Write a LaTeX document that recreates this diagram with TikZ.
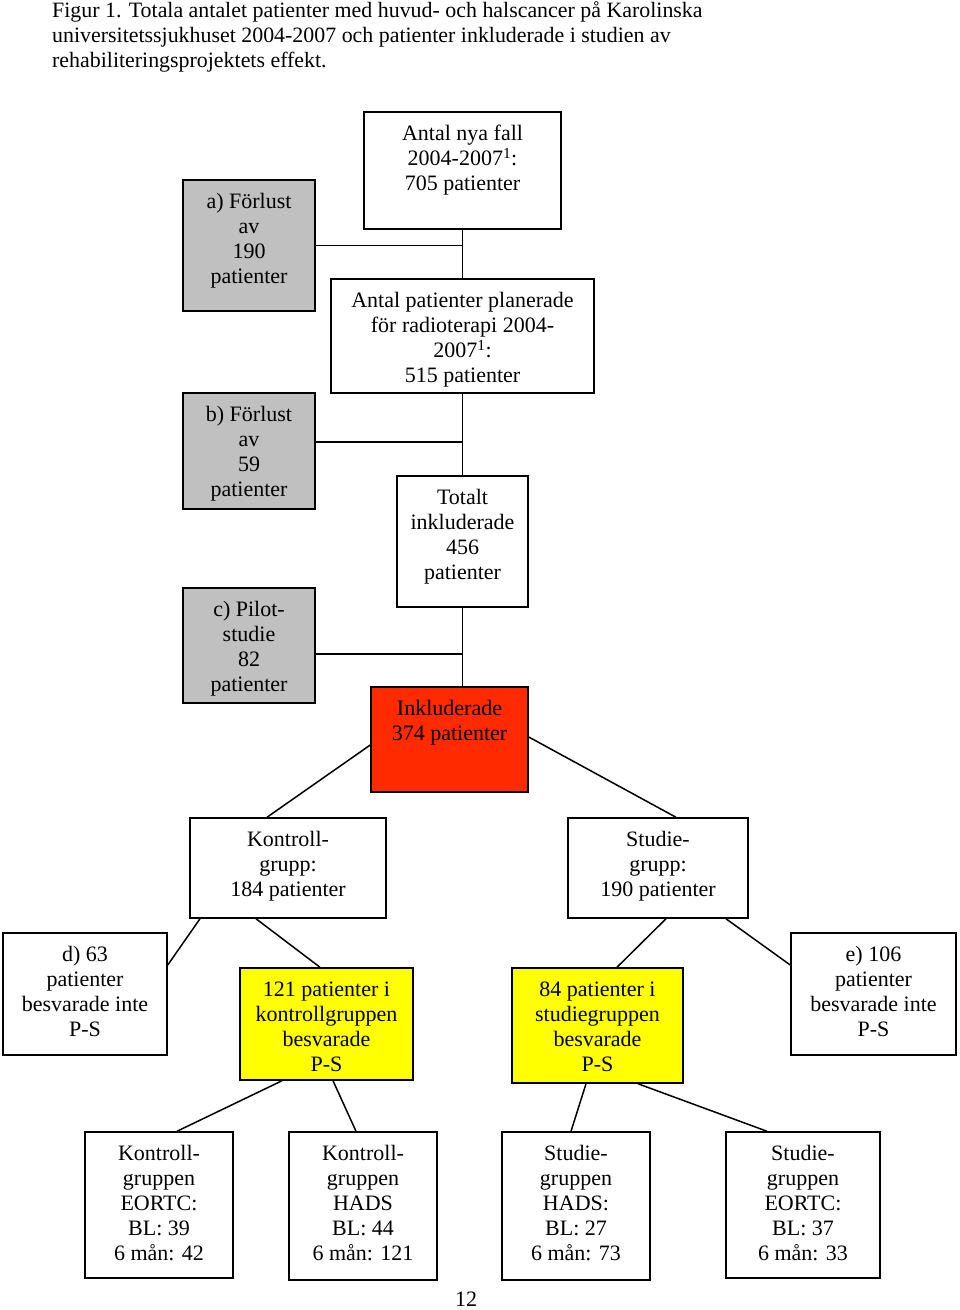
\documentclass[tikz,border=0pt]{standalone}
\usepackage{fontspec}
\setmainfont{Liberation Serif}
\definecolor{boxgray}{RGB}{192,192,192}
\definecolor{boxred}{RGB}{255,42,0}
\definecolor{boxyellow}{RGB}{255,255,0}
\begin{document}
\begin{tikzpicture}[x=1pt,y=-1pt,
  box/.style={draw=black,line width=1.5pt,rectangle,inner sep=0pt},
  graybox/.style={box,fill=boxgray},
  redbox/.style={box,fill=boxred},
  yellowbox/.style={box,fill=boxyellow},
  txt/.style={align=center,inner sep=0pt,font=\fontsize{22}{25}\selectfont},
  conn/.style={line width=1.5pt}]
\useasboundingbox (0,0) rectangle (960,1310);
% title
\node[anchor=north west,align=left,inner sep=0pt,font=\fontsize{21.9}{25}\selectfont] (title) at (52,1)
 {Figur 1. Totala antalet patienter med huvud- och halscancer på Karolinska\\
  universitetssjukhuset 2004-2007 och patienter inkluderade i studien av\\
  rehabiliteringsprojektets effekt.};
% boxes
\node[box,minimum width=197,minimum height=117] (top) at (462.5,170.5) {};
\node[graybox,minimum width=132,minimum height=131] (a) at (249,245.5) {};
\node[box,minimum width=263,minimum height=114] (plan) at (462.5,336) {};
\node[graybox,minimum width=132,minimum height=116] (b) at (249,451) {};
\node[box,minimum width=131,minimum height=131] (tot) at (462.5,541.5) {};
\node[graybox,minimum width=132,minimum height=115] (c) at (249,645.5) {};
\node[redbox,minimum width=157,minimum height=105] (red) at (449.5,739.5) {};
\node[box,minimum width=196,minimum height=100] (kg) at (288,868) {};
\node[box,minimum width=180,minimum height=100] (sg) at (658,868) {};
\node[box,minimum width=164,minimum height=122] (d) at (85,994) {};
\node[yellowbox,minimum width=173,minimum height=112] (k121) at (326.5,1024) {};
\node[yellowbox,minimum width=171,minimum height=115] (s84) at (597.5,1025.5) {};
\node[box,minimum width=165,minimum height=122] (e) at (873.5,994) {};
\node[box,minimum width=148,minimum height=146] (b1) at (159,1205) {};
\node[box,minimum width=148,minimum height=148] (b2) at (363,1206) {};
\node[box,minimum width=148,minimum height=148] (b3) at (576,1206) {};
\node[box,minimum width=154,minimum height=146] (b4) at (803,1205) {};
% texts
\node[txt,anchor=north] (top-t) at ([yshift=-14pt]top.north) {Antal nya fall\\2004-2007\textsuperscript{1}:\\705 patienter};
\node[txt,anchor=north] (a-t) at ([yshift=-14pt]a.north) {a) Förlust\\av\\190\\patienter};
\node[txt,anchor=north] (plan-t) at ([yshift=-14pt]plan.north) {Antal patienter planerade\\för radioterapi 2004-\\2007\textsuperscript{1}:\\515 patienter};
\node[txt,anchor=north] (b-t) at ([yshift=-14pt]b.north) {b) Förlust\\av\\59\\patienter};
\node[txt,anchor=north] (tot-t) at ([yshift=-14pt]tot.north) {Totalt\\inkluderade\\456\\patienter};
\node[txt,anchor=north] (c-t) at ([yshift=-14pt]c.north) {c) Pilot-\\studie\\82\\patienter};
\node[txt,anchor=north] (red-t) at ([yshift=-14pt]red.north) {Inkluderade\\374 patienter};
\node[txt,anchor=north] (kg-t) at ([yshift=-14pt]kg.north) {Kontroll-\\grupp:\\184 patienter};
\node[txt,anchor=north] (sg-t) at ([yshift=-14pt]sg.north) {Studie-\\grupp:\\190 patienter};
\node[txt,anchor=north] (d-t) at ([yshift=-14pt]d.north) {d) 63\\patienter\\besvarade inte\\P-S};
\node[txt,anchor=north] (k121-t) at ([yshift=-14pt]k121.north) {121 patienter i\\kontrollgruppen\\besvarade\\P-S};
\node[txt,anchor=north] (s84-t) at ([yshift=-14pt]s84.north) {84 patienter i\\studiegruppen\\besvarade\\P-S};
\node[txt,anchor=north] (e-t) at ([yshift=-14pt]e.north) {e) 106\\patienter\\besvarade inte\\P-S};
\node[txt,anchor=north] (b1-t) at ([yshift=-14pt]b1.north) {Kontroll-\\gruppen\\EORTC:\\BL: 39\\6 mån: 42};
\node[txt,anchor=north] (b2-t) at ([yshift=-14pt]b2.north) {Kontroll-\\gruppen\\HADS\\BL: 44\\6 mån: 121};
\node[txt,anchor=north] (b3-t) at ([yshift=-14pt]b3.north) {Studie-\\gruppen\\HADS:\\BL: 27\\6 mån: 73};
\node[txt,anchor=north] (b4-t) at ([yshift=-14pt]b4.north) {Studie-\\gruppen\\EORTC:\\BL: 37\\6 mån: 33};
\node[txt] (page) at (466,1299) {12};
% connectors
\draw[conn] (top.south) -- (plan.north);
\draw[conn] (a.east) -- (a.east -| top.south);
\draw[conn] (plan.south) -- (tot.north);
\draw[conn] ([yshift=9pt]b.east) -- ([yshift=9pt]b.east -| plan.south);
\draw[conn] (tot.south) -- (tot.south |- red.north);
\draw[conn] ([yshift=-8.5pt]c.east) -- ([yshift=-8.5pt]c.east -| tot.south);
\draw[conn] ([yshift=-5.5pt]red.west) -- ([xshift=-21pt]kg.north);
\draw[conn] ([yshift=2.5pt]red.east) -- ([xshift=18pt]sg.north);
\draw[conn] ([xshift=-88pt]kg.south) -- ([yshift=29pt]d.east);
\draw[conn] ([xshift=-32pt]kg.south) -- ([xshift=-6.5pt]k121.north);
\draw[conn] ([xshift=8pt]sg.south) -- ([xshift=19.5pt]s84.north);
\draw[conn] ([xshift=68pt]sg.south) -- ([yshift=29pt]e.west);
\draw[conn] ([xshift=-44.5pt]k121.south) -- ([xshift=18pt]b1.north);
\draw[conn] ([xshift=6.5pt]k121.south) -- ([xshift=-7pt]b2.north);
\draw[conn] ([xshift=-11.5pt]s84.south) -- ([xshift=-5pt]b3.north);
\draw[conn] ([xshift=40.5pt]s84.south) -- ([xshift=-36pt]b4.north);
\end{tikzpicture}
\end{document}
